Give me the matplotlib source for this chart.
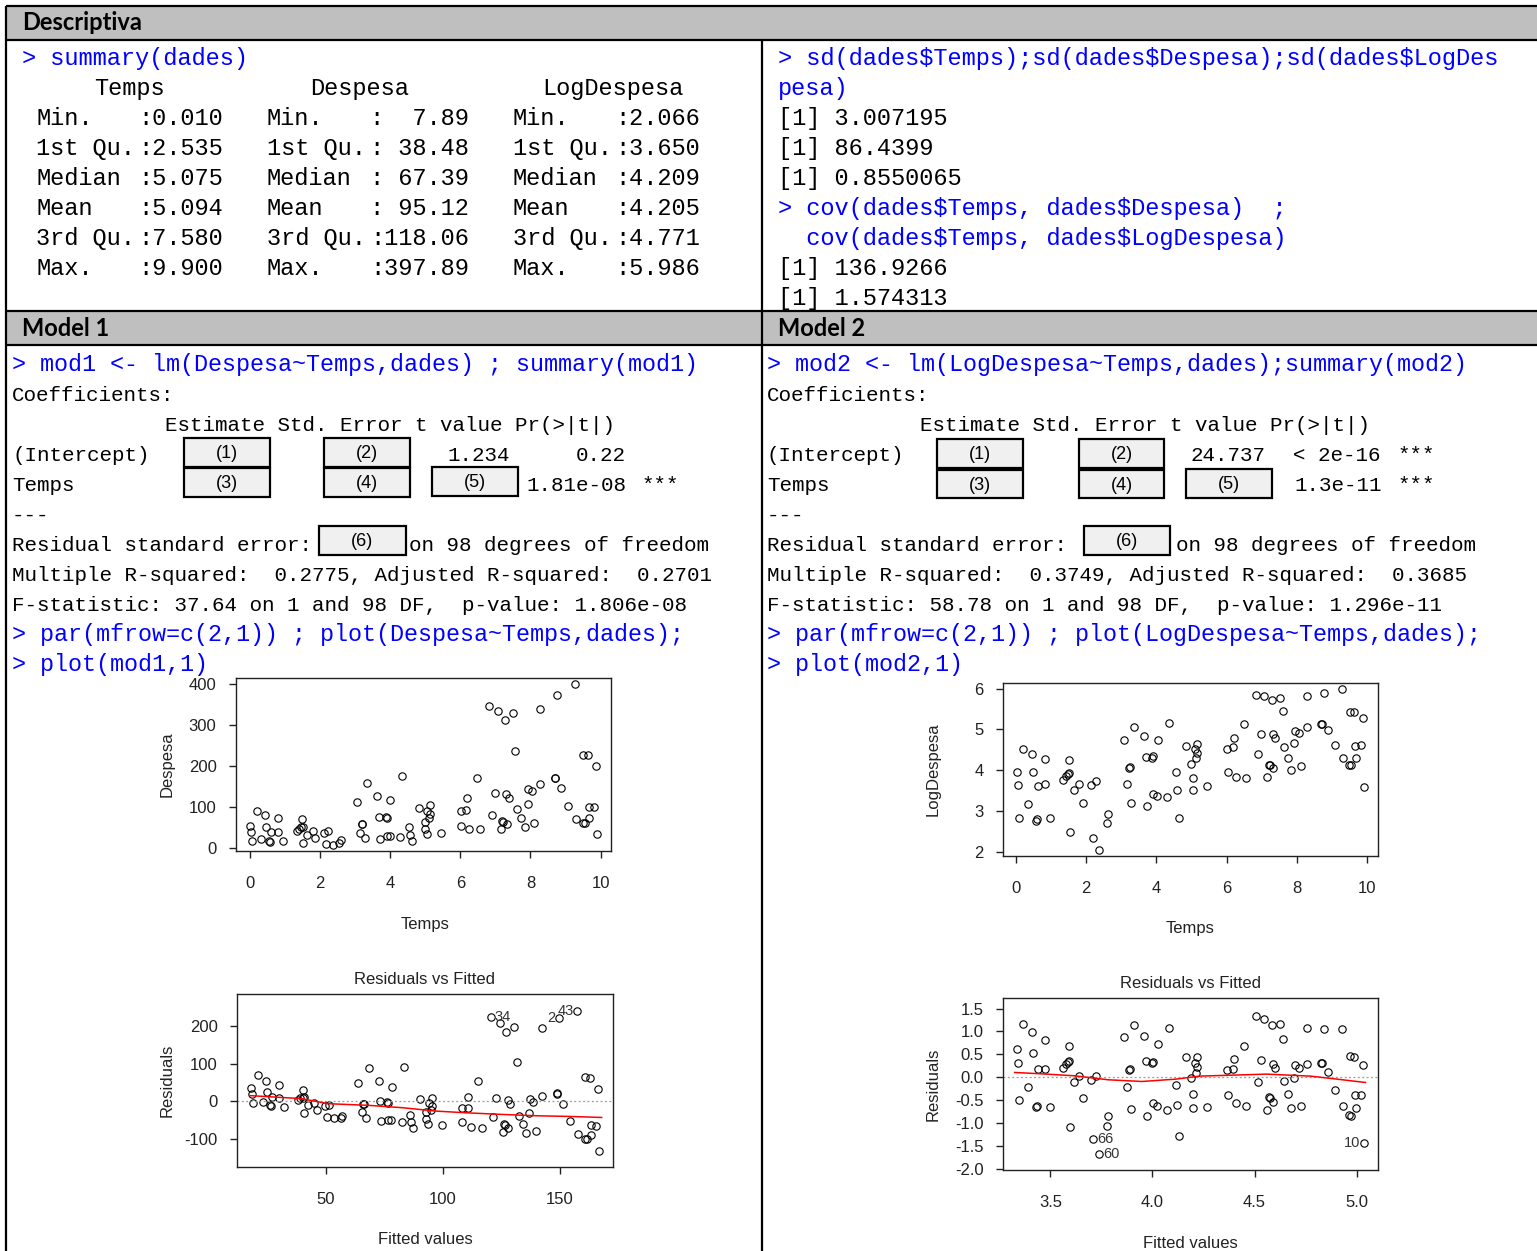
import numpy as np
import matplotlib
matplotlib.use("Agg")
import matplotlib.pyplot as plt
from matplotlib.patches import Rectangle
from matplotlib.ticker import FormatStrFormatter

plt.rcParams["axes.unicode_minus"] = False

W, H = 1537, 1251
MONO = "Liberation Mono"
SANS = "Liberation Sans"
HEAD = "Lato"
BLUE = "#0000ff"
GRAY = "#bfbfbf"

# --- data ---
# plot(Despesa~Temps)
temps_a = [0.00, 0.03, 0.07, 0.19, 0.33, 0.43, 0.46, 0.55, 0.58, 0.60, 0.79, 0.79, 0.95,
           1.33, 1.40, 1.47, 1.51, 1.49, 1.52, 1.63, 1.79, 1.87, 2.12, 2.23, 2.17, 2.36, 2.55, 2.59,
           3.05, 3.15, 3.19, 3.21, 3.27, 3.35, 3.63, 3.68, 3.71, 3.87, 3.91, 3.90, 3.99, 4.00,
           4.29, 4.34, 4.53, 4.56, 4.62, 4.82, 4.98, 4.99, 5.04, 5.06, 5.12, 5.14, 5.14, 5.44,
           6.01, 6.01, 6.16, 6.18, 6.26, 6.47, 6.56, 6.83, 6.89, 6.98, 7.08, 7.16, 7.19, 7.23,
           7.26, 7.30, 7.32, 7.38, 7.49, 7.57, 7.62, 7.74, 7.83, 7.92, 7.93, 8.03, 8.10, 8.27,
           8.28, 8.69, 8.71, 8.76, 8.88, 9.06, 9.28, 9.31, 9.50, 9.49, 9.55, 9.63, 9.66, 9.68,
           9.82, 9.88, 9.90]
despesa = [52.7, 38, 16, 91, 22, 79, 50, 16, 15, 38, 38, 73, 16,
           42, 47, 50, 51, 71, 11, 32, 41, 24, 37, 42, 9, 8, 12, 19,
           112, 37, 58, 59, 24, 158, 127, 75, 22, 75, 73, 28, 29, 117,
           27, 174, 50, 32, 17, 97, 64, 45, 34, 91, 73, 105, 83, 37,
           91, 53, 93, 122, 45, 169, 45, 346, 81, 133, 334, 45, 65, 63,
           311, 131, 58, 122, 328, 236, 94, 73, 52, 107, 144, 138, 61, 339,
           156, 170, 169, 371, 145, 101, 398, 71, 227, 61, 61, 225, 99, 73,
           99, 200, 34]

# plot(LogDespesa~Temps)
temps_b = [0.03, 0.06, 0.10, 0.21, 0.36, 0.45, 0.48, 0.57, 0.60, 0.63, 0.82, 0.82, 0.96,
           1.35, 1.42, 1.48, 1.51, 1.50, 1.53, 1.66, 1.80, 1.90, 2.13, 2.27, 2.20, 2.37, 2.58, 2.61,
           3.07, 3.15, 3.23, 3.25, 3.28, 3.37, 3.64, 3.70, 3.73, 3.88, 3.91, 3.91, 4.01, 4.04,
           4.30, 4.37, 4.55, 4.58, 4.63, 4.84, 4.99, 5.03, 5.05, 5.10, 5.13, 5.15, 5.16, 5.45,
           6.02, 6.03, 6.17, 6.21, 6.27, 6.48, 6.56, 6.83, 6.89, 6.99, 7.07, 7.16, 7.20, 7.24,
           7.29, 7.32, 7.33, 7.38, 7.51, 7.59, 7.62, 7.74, 7.83, 7.92, 7.94, 8.05, 8.10, 8.28,
           8.28, 8.69, 8.71, 8.76, 8.89, 9.07, 9.28, 9.30, 9.47, 9.51, 9.54, 9.63, 9.66, 9.67,
           9.82, 9.88, 9.91]
log_despesa = [3.95, 3.64, 2.84, 4.52, 3.18, 4.39, 3.95, 2.77, 2.81, 3.61, 4.28, 3.66, 2.84,
               3.76, 3.87, 3.91, 3.94, 4.26, 2.50, 3.51, 3.66, 3.20, 3.64, 3.75, 2.35, 2.06, 2.71, 2.94,
               4.73, 3.66, 4.05, 4.07, 3.20, 5.05, 4.85, 4.33, 3.13, 4.31, 4.34, 3.43, 3.38, 4.74,
               3.35, 5.16, 3.95, 3.51, 2.84, 4.60, 4.16, 3.82, 3.53, 4.52, 4.31, 4.65, 4.43, 3.61,
               4.52, 3.97, 4.56, 4.80, 3.84, 5.13, 3.82, 5.85, 4.41, 4.90, 5.81, 3.84, 4.13, 4.13,
               5.72, 4.05, 4.88, 4.79, 5.78, 5.46, 4.56, 4.30, 4.00, 4.67, 4.97, 4.92, 4.10, 5.83,
               5.05, 5.13, 5.13, 5.90, 4.98, 4.62, 5.98, 4.29, 4.13, 5.42, 4.13, 5.42, 4.60, 4.31,
               4.62, 5.29, 3.59]

# red smoother lines
smooth1_x = [17.8, 39.7, 51.1, 68.4, 82.8, 97.1, 111.5, 125.9, 140.2, 154.6, 168.0]
smooth1_y = [15.2, 7.2, -6.3, -10.7, -17.0, -26.0, -31.0, -35.0, -38.5, -40.3, -43.0]
smooth2_x = [3.325, 3.454, 3.619, 3.784, 3.949, 4.114, 4.229, 4.394, 4.559, 4.774, 4.889, 5.043]
smooth2_y = [0.102, 0.073, 0.029, -0.058, -0.095, -0.044, 0.022, 0.044, 0.066, 0.022, -0.036, -0.117]

ids1 = ["34", "2", "43"]
ids2 = ["66", "60", "10"]

# --- console text ---
summary_heads = ["Temps", "Despesa", "LogDespesa"]
summary_stats = ["Min.", "1st Qu.", "Median", "Mean", "3rd Qu.", "Max."]
summary_vals = [
    [":0.010", ":2.535", ":5.075", ":5.094", ":7.580", ":9.900"],
    [":  7.89", ": 38.48", ": 67.39", ": 95.12", ":118.06", ":397.89"],
    [":2.066", ":3.650", ":4.209", ":4.205", ":4.771", ":5.986"],
]
desc_right = [
    ("> sd(dades$Temps);sd(dades$Despesa);sd(dades$LogDes", BLUE),
    ("pesa)", BLUE),
    ("[1] 3.007195", "black"),
    ("[1] 86.4399", "black"),
    ("[1] 0.8550065", "black"),
    ("> cov(dades$Temps, dades$Despesa)  ;", BLUE),
    ("  cov(dades$Temps, dades$LogDespesa)", BLUE),
    ("[1] 136.9266", "black"),
    ("[1] 1.574313", "black"),
]

fig = plt.figure(figsize=(W / 100, H / 100), dpi=100)
bg = fig.add_axes([0, 0, 1, 1])
bg.set_xlim(0, W)
bg.set_ylim(H, 0)
bg.axis("off")


def put(x, y, s, color="black", size=15, ha="left", family=MONO, weight="normal"):
    # y is the visual middle of the line, baseline sits a bit lower
    bg.text(x, y + 8, s, color=color, fontsize=size, ha=ha, va="baseline",
            family=family, fontweight=weight, parse_math=False)


def hline(y, x0=6, x1=W, lw=1.6):
    bg.plot([x0, x1], [y, y], color="black", lw=lw, solid_capstyle="butt")


def vline(x, y0, y1, lw=1.6):
    bg.plot([x, x], [y0, y1], color="black", lw=lw, solid_capstyle="butt")


def gap_box(x0, y0, x1, y1, label):
    bg.add_patch(Rectangle((x0, y0), x1 - x0, y1 - y0, facecolor="#f0f0f0",
                           edgecolor="black", lw=1.6))
    bg.text((x0 + x1) / 2, (y0 + y1) / 2 + 1, label, ha="center", va="center",
            fontsize=13, family=SANS)


# table frame
bg.add_patch(Rectangle((6, 6), W - 6, 34, facecolor=GRAY, edgecolor="none"))
bg.add_patch(Rectangle((6, 311), W - 6, 34, facecolor=GRAY, edgecolor="none"))
for y in [6, 40, 311, 345]:
    hline(y)
vline(6, 6, H)
vline(762, 40, H)

bg.text(22, 23, "Descriptiva", fontsize=17, fontweight="bold", family=HEAD, va="center")
bg.text(22, 328, "Model 1", fontsize=17, fontweight="bold", family=HEAD, va="center")
bg.text(778, 328, "Model 2", fontsize=17, fontweight="bold", family=HEAD, va="center")

# Descriptiva left
put(22, 57, "> summary(dades)", BLUE, 17)
head_x = [129, 360, 613]
lab_x = [36, 267, 513]
val_x = [223, 469, 700]
for j in range(3):
    put(head_x[j], 87, summary_heads[j], size=17, ha="center")
    for i, st in enumerate(summary_stats):
        put(lab_x[j], 117 + 30 * i, st, size=17)
        put(val_x[j], 117 + 30 * i, summary_vals[j][i], size=17, ha="right")

# Descriptiva right
for i, (s, c) in enumerate(desc_right):
    put(778, 57 + 30 * i, s, c, 17)

# Model cells
BS = 16.8


def model_cell(x0, cmd, est_x, boxes, coef_txt, se_x, r2, fstat, plotcmd, plotmod):
    put(x0, 363, cmd, BLUE, BS)
    put(x0, 393, "Coefficients:")
    put(est_x, 423, "Estimate Std. Error t value Pr(>|t|)")
    put(x0, 453, "(Intercept)")
    put(x0, 483, "Temps")
    for (bx0, by0, bx1, by1, lab) in boxes:
        gap_box(bx0, by0, bx1, by1, lab)
    for (tx, ty, s, ha) in coef_txt:
        put(tx, ty, s, ha=ha)
    put(x0, 513, "---")
    put(x0, 543, "Residual standard error:")
    put(se_x, 543, "on 98 degrees of freedom")
    put(x0, 573, r2)
    put(x0, 603, fstat)
    put(x0, 633, plotcmd, BLUE, BS)
    put(x0, 663, plotmod, BLUE, BS)


model_cell(12, "> mod1 <- lm(Despesa~Temps,dades) ; summary(mod1)", 165,
           [(184, 438, 270, 467, "(1)"), (324, 438, 410, 467, "(2)"),
            (184, 468, 270, 497, "(3)"), (324, 468, 410, 497, "(4)"),
            (432, 467, 518, 496, "(5)"), (319, 526, 406, 555, "(6)")],
           [(510, 453, "1.234", "right"), (626, 453, "0.22", "right"),
            (526, 483, "1.81e-08", "left"), (642, 483, "***", "left")],
           409,
           "Multiple R-squared:  0.2775, Adjusted R-squared:  0.2701",
           "F-statistic: 37.64 on 1 and 98 DF,  p-value: 1.806e-08",
           "> par(mfrow=c(2,1)) ; plot(Despesa~Temps,dades);",
           "> plot(mod1,1)")

model_cell(767, "> mod2 <- lm(LogDespesa~Temps,dades);summary(mod2)", 920,
           [(937, 439, 1023, 468, "(1)"), (1079, 439, 1164, 468, "(2)"),
            (937, 470, 1023, 498, "(3)"), (1079, 470, 1164, 498, "(4)"),
            (1186, 469, 1272, 498, "(5)"), (1084, 526, 1170, 555, "(6)")],
           [(1265, 453, "24.737", "right"), (1293, 453, "< 2e-16", "left"),
            (1397, 453, "***", "left"), (1294, 483, "1.3e-11", "left"),
            (1397, 483, "***", "left")],
           1176,
           "Multiple R-squared:  0.3749, Adjusted R-squared:  0.3685",
           "F-statistic: 58.78 on 1 and 98 DF,  p-value: 1.296e-11",
           "> par(mfrow=c(2,1)) ; plot(LogDespesa~Temps,dades);",
           "> plot(mod2,1)")


# --- R style plots ---
def px_axes(l, t, r, b):
    return fig.add_axes([l / W, 1 - b / H, (r - l) / W, (b - t) / H])


def r_style(ax, xticks, yticks, yfmt=None):
    for sp in ax.spines.values():
        sp.set_linewidth(1.0)
        sp.set_color("#222222")
    ax.set_xticks(xticks)
    ax.set_yticks(yticks)
    ax.tick_params(direction="out", length=5, width=1.0, colors="#222222",
                   labelsize=12)
    ax.tick_params(axis="x", pad=13)
    ax.tick_params(axis="y", pad=9)
    for lab in ax.get_xticklabels() + ax.get_yticklabels():
        lab.set_family(SANS)
    if yfmt:
        ax.yaxis.set_major_formatter(FormatStrFormatter(yfmt))


def pad_lim(v, f=0.04):
    lo, hi = float(np.min(v)), float(np.max(v))
    d = (hi - lo) * f
    return lo - d, hi + d


def circles(ax, x, y):
    ax.plot(x, y, "o", ms=5.3, mfc="none", mec="black", mew=0.8, ls="none")


def scatter_panel(box, x, y, yticks, ylab, xlab_y, ylab_x, cx):
    ax = px_axes(*box)
    circles(ax, x, y)
    ax.set_xlim(*pad_lim(x))
    ax.set_ylim(*pad_lim(y))
    r_style(ax, [0, 2, 4, 6, 8, 10], yticks)
    cy = (box[1] + box[3]) / 2
    bg.text(cx, xlab_y, "Temps", ha="center", va="center", fontsize=12, family=SANS, color="#222222")
    bg.text(ylab_x, cy, ylab, ha="center", va="center", rotation=90, fontsize=12,
            family=SANS, color="#222222")
    return ax


def resid_panel(box, x, y, sx, sy, ids, sides, ylim, xticks, yticks, yfmt,
                title_y, xlab_y, ylab_x, cx):
    x = np.asarray(x, dtype=float)
    y = np.asarray(y, dtype=float)
    coef = np.polyfit(x, y, 1)
    fitted = np.polyval(coef, x)
    resid = y - fitted
    ax = px_axes(*box)
    circles(ax, fitted, resid)
    ax.axhline(0, color="#999999", lw=0.9, ls=(0, (1.5, 2)))
    ax.plot(sx, sy, color="red", lw=1.1)
    ax.set_xlim(*pad_lim(fitted))
    ax.set_ylim(*ylim)
    r_style(ax, xticks, yticks, yfmt)
    top = np.argsort(-np.abs(resid))[:3]
    top = top[np.argsort(fitted[top])]
    dx = (ax.get_xlim()[1] - ax.get_xlim()[0]) * 0.01
    for k, name, side in zip(top, ids, sides):
        if side == "right":
            ax.text(fitted[k] + dx, resid[k], name, ha="left", va="center",
                    fontsize=10.5, family=SANS, color="#333333")
        else:
            ax.text(fitted[k] - dx, resid[k], name, ha="right", va="center",
                    fontsize=10.5, family=SANS, color="#333333")
    cy = (box[1] + box[3]) / 2
    bg.text(cx, title_y, "Residuals vs Fitted", ha="center", va="center", fontsize=12,
            family=SANS, color="#222222")
    bg.text(cx, xlab_y, "Fitted values", ha="center", va="center", fontsize=12,
            family=SANS, color="#222222")
    bg.text(ylab_x, cy, "Residuals", ha="center", va="center", rotation=90, fontsize=12,
            family=SANS, color="#222222")
    return ax


scatter_panel((236, 678, 611, 851), temps_a, despesa, [0, 100, 200, 300, 400],
              "Despesa", 924, 167, 425)
scatter_panel((1003, 683, 1378, 856), temps_b, log_despesa, [2, 3, 4, 5, 6],
              "LogDespesa", 928, 933, 1190)

resid_panel((237, 994, 613, 1167), temps_a, despesa, smooth1_x, smooth1_y, ids1,
            ["right", "left", "left"], (-175, 286), [50, 100, 150], [-100, 0, 100, 200], None,
            979, 1240, 167, 425)
resid_panel((1003, 998, 1378, 1170), temps_b, log_despesa, smooth2_x, smooth2_y, ids2,
            ["right", "right", "left"], (-2.03, 1.73), [3.5, 4.0, 4.5, 5.0],
            [-2.0, -1.5, -1.0, -0.5, 0.0, 0.5, 1.0, 1.5], "%.1f",
            983, 1243, 933, 1190)

fig.savefig("out.png", dpi=100)
